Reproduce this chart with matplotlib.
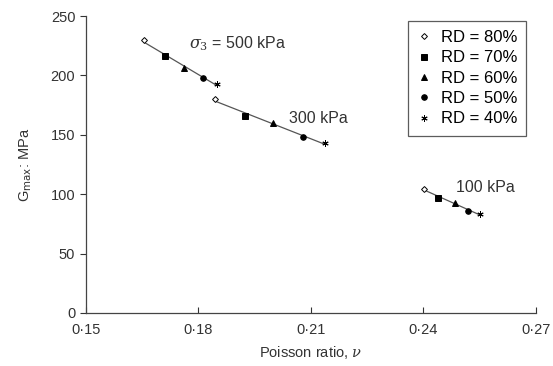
import numpy as np
import matplotlib
matplotlib.use('Agg')
import matplotlib.pyplot as plt

plt.rcParams['font.family'] = ['Liberation Sans', 'DejaVu Sans']
plt.rcParams['mathtext.fontset'] = 'dejavuserif'

# Poisson ratio and Gmax for each confining pressure, order RD = 80..40%
rd_labels = ['RD = 80%', 'RD = 70%', 'RD = 60%', 'RD = 50%', 'RD = 40%']
nu_500 = [0.1655, 0.1712, 0.1763, 0.1813, 0.1851]
g_500 = [230, 216, 206, 198, 193]
nu_300 = [0.1845, 0.1925, 0.2000, 0.2080, 0.2139]
g_300 = [180, 166, 160, 148, 143]
nu_100 = [0.2403, 0.2440, 0.2485, 0.2520, 0.2550]
g_100 = [104, 97, 93, 86, 83]

markers = ['D', 's', '^', 'o', (6, 2, 0)]
msizes = [3, 4, 4, 4, 4.5]
faces = ['white', 'black', 'black', 'black', 'black']

fig = plt.figure(figsize=(5.53, 3.66), dpi=100)
ax = fig.add_axes([0.155, 0.145, 0.814, 0.811])

for nu, g in [(nu_500, g_500), (nu_300, g_300), (nu_100, g_100)]:
    # linear trend line through each group
    k, b = np.polyfit(nu, g, 1)
    xs = np.array([nu[0], nu[-1]])
    ax.plot(xs, k * xs + b, color='#555555', lw=0.9, zorder=1)

for i in range(5):
    ax.plot([nu_500[i], nu_300[i], nu_100[i]], [g_500[i], g_300[i], g_100[i]],
            ls='none', marker=markers[i], ms=msizes[i], mfc=faces[i],
            mec='black', mew=0.7, color='black', label=rd_labels[i], zorder=3)

ax.text(0.1775, 227, r'$\sigma_3$ = 500 kPa', fontsize=11.5, va='center', color='#333333')
ax.text(0.2043, 164, '300 kPa', fontsize=11.5, va='center', color='#333333')
ax.text(0.2488, 106, '100 kPa', fontsize=11.5, va='center', color='#333333')

ax.set_xlim(0.15, 0.27)
ax.set_ylim(0, 250)
ax.set_xticks([0.15, 0.18, 0.21, 0.24, 0.27])
ax.set_xticklabels(['0·15', '0·18', '0·21', '0·24', '0·27'])
ax.set_yticks([0, 50, 100, 150, 200, 250])
ax.tick_params(axis='x', direction='in', length=4, labelsize=10.5, colors='#333333', pad=7)
ax.tick_params(axis='y', direction='out', length=4, labelsize=10.5, colors='#333333')
ax.spines['top'].set_visible(False)
ax.spines['right'].set_visible(False)
for s in ['left', 'bottom']:
    ax.spines[s].set_color('#444444')
    ax.spines[s].set_linewidth(0.9)

ax.set_xlabel(r'Poisson ratio, $\nu$', fontsize=10.5, color='#333333', labelpad=5)
ax.set_ylabel(r'G$_\mathsf{max}$: MPa', fontsize=10.5, color='#333333', labelpad=12)

leg = ax.legend(loc='upper right', bbox_to_anchor=(0.997, 1.012), fontsize=12,
                frameon=True, fancybox=False, edgecolor='#333333',
                handlelength=0.8, handletextpad=0.6, borderpad=0.55,
                labelspacing=0.32)
leg.get_frame().set_linewidth(0.9)

fig.savefig('out.png', dpi=100)
